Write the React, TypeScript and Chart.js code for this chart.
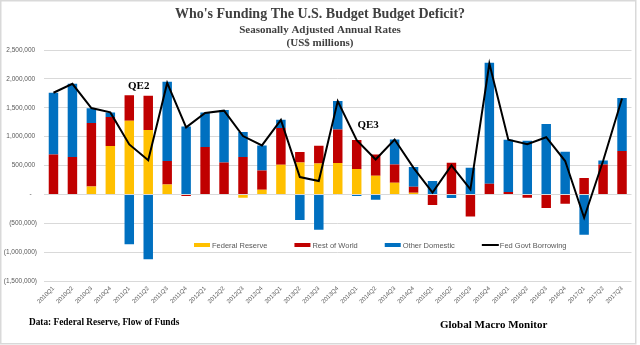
import React, { useEffect, useRef } from "react";
import { Chart, registerables } from "chart.js";

Chart.register(...registerables);

const quarters = [
  "2010Q1", "2010Q2", "2010Q3", "2010Q4",
  "2011Q1", "2011Q2", "2011Q3", "2011Q4",
  "2012Q1", "2012Q2", "2012Q3", "2012Q4",
  "2013Q1", "2013Q2", "2013Q3", "2013Q4",
  "2014Q1", "2014Q2", "2014Q3", "2014Q4",
  "2015Q1", "2015Q2", "2015Q3", "2015Q4",
  "2016Q1", "2016Q2", "2016Q3", "2016Q4",
  "2017Q1", "2017Q2", "2017Q3",
];

// US$ millions, seasonally adjusted annual rates
const federalReserve = [
  0, 0, 138000, 836000,
  1274000, 1113000, 173000, 0,
  0, 0, -58000, 81000,
  513000, 554000, 536000, 542000,
  438000, 323000, 202000, 29000,
  0, 0, 0, 0,
  0, 0, 0, 0,
  0, 0, 0,
];

const restOfWorld = [
  692000, 646000, 1100000, 502000,
  444000, 594000, 404000, -30000,
  819000, 554000, 646000, 334000,
  635000, 178000, 306000, 583000,
  502000, 369000, 317000, 104000,
  -185000, 548000, -381000, 185000,
  40000, -58000, -236000, -161000,
  283000, 519000, 750000,
];

const otherDomestic = [
  1067000, 1269000, 254000, 81000,
  -865000, -1125000, 1372000, 1176000,
  600000, 905000, 432000, 433000,
  144000, -444000, -611000, 490000,
  -30000, -92000, 433000, 340000,
  231000, -63000, 461000, 2093000,
  906000, 928000, 1217000, 738000,
  -698000, 69000, 917000,
];

const fedGovtBorrowing = [
  1760000, 1915000, 1494000, 1420000,
  865000, 590000, 1930000, 1160000,
  1410000, 1450000, 1010000, 848000,
  1290000, 300000, 231000, 1615000,
  940000, 605000, 950000, 460000,
  30000, 500000, 87000, 2266000,
  946000, 870000, 990000, 577000,
  -404000, 577000, 1660000,
];

const yMin = -1500000;
const yMax = 2500000;
const yStep = 500000;

const titleText = "Who's Funding The U.S. Budget Budget Deficit?";
const subtitleText = "Seasonally Adjusted Annual Rates";
const unitsText = "(US$ millions)";
const sourceText = "Data: Federal Reserve, Flow of Funds";
const brandText = "Global Macro Monitor";

// annotation labels anchored in data space: [text, category index, value]
const annotations: [string, number, number][] = [
  ["QE2", 4.5, 1870000],
  ["QE3", 16.6, 1190000],
];

const colors = {
  fed: "#FFC000",
  row: "#C00000",
  dom: "#0070C0",
  line: "#000000",
};

function fmtTick(v: number): string {
  if (v === 0) return "-   ";
  const s = Math.abs(v).toLocaleString("en-US");
  return v < 0 ? `(${s})` : `${s} `;
}

export default function App() {
  const ref = useRef<HTMLCanvasElement>(null);

  useEffect(() => {
    document.body.style.margin = "0";
    const canvas = ref.current;
    if (!canvas) return;

    const decor = {
      id: "decor",
      beforeDraw(chart: any) {
        const c = chart.ctx;
        c.save();
        c.fillStyle = "#ffffff";
        c.fillRect(0, 0, chart.width, chart.height);
        c.restore();
      },
      afterDraw(chart: any) {
        const c: CanvasRenderingContext2D = chart.ctx;
        const xs = chart.scales.x;
        const ys = chart.scales.y;
        c.save();
        // border
        c.strokeStyle = "#d9d9d9";
        c.lineWidth = 1.5;
        c.strokeRect(0.75, 0.75, 635, 343);

        // titles
        c.textAlign = "center";
        c.textBaseline = "middle";
        c.fillStyle = "#404040";
        c.font = "bold 14px 'Liberation Serif', serif";
        c.fillText(titleText, 320, 14);
        c.font = "bold 11px 'Liberation Serif', serif";
        c.fillText(subtitleText, 320, 30);
        c.fillText(unitsText, 320, 43);

        // annotations
        c.fillStyle = "#000000";
        c.font = "bold 11px 'Liberation Serif', serif";
        for (const [t, i, v] of annotations) {
          const px = xs.left + ((i + 0.5) / quarters.length) * xs.width;
          c.fillText(t, px, ys.getPixelForValue(v));
        }

        // footer
        c.textAlign = "left";
        c.font = "bold 9.3px 'Liberation Serif', serif";
        c.fillText(sourceText, 29, 323);
        c.font = "bold 11px 'Liberation Serif', serif";
        c.fillText(brandText, 440, 325);

        // legend
        const items = [
          { label: "Federal Reserve", color: colors.fed, line: false },
          { label: "Rest of World", color: colors.row, line: false },
          { label: "Other Domestic", color: colors.dom, line: false },
          { label: "Fed Govt Borrowing", color: colors.line, line: true },
        ];
        c.font = "7.5px 'Liberation Sans', sans-serif";
        let lx = 194;
        const ly = 245;
        for (const it of items) {
          if (it.line) {
            c.strokeStyle = it.color;
            c.lineWidth = 2;
            c.beginPath();
            c.moveTo(lx, ly);
            c.lineTo(lx + 17, ly);
            c.stroke();
          } else {
            c.fillStyle = it.color;
            c.fillRect(lx, ly - 2, 16, 4);
          }
          c.fillStyle = "#595959";
          c.fillText(it.label, lx + 18, ly + 0.5);
          lx += 18 + c.measureText(it.label).width + 27;
        }
        c.restore();
      },
    };

    const chart = new Chart(canvas, {
      type: "bar",
      data: {
        labels: quarters,
        datasets: [
          {
            type: "line",
            label: "Fed Govt Borrowing",
            data: fedGovtBorrowing,
            borderColor: colors.line,
            backgroundColor: colors.line,
            borderWidth: 2,
            pointRadius: 0,
            tension: 0,
            fill: false,
            stack: "line",
            order: 0,
          } as any,
          {
            label: "Federal Reserve",
            data: federalReserve,
            backgroundColor: colors.fed,
            stack: "bars",
            order: 1,
          },
          {
            label: "Rest of World",
            data: restOfWorld,
            backgroundColor: colors.row,
            stack: "bars",
            order: 1,
          },
          {
            label: "Other Domestic",
            data: otherDomestic,
            backgroundColor: colors.dom,
            stack: "bars",
            order: 1,
          },
        ],
      },
      options: {
        responsive: false,
        animation: false,
        layout: { padding: { top: 50, right: 8.5, bottom: 0, left: 0 } },
        datasets: {
          bar: { categoryPercentage: 1, barPercentage: 0.5 },
        },
        plugins: {
          legend: { display: false },
          title: { display: false },
          tooltip: { enabled: false },
        },
        scales: {
          x: {
            stacked: true,
            grid: { display: false, drawTicks: false },
            border: { display: false },
            ticks: {
              autoSkip: false,
              maxRotation: 45,
              minRotation: 45,
              padding: 4,
              color: "#595959",
              font: { family: "'Liberation Sans', sans-serif", size: 6 },
            },
            afterFit(scale: any) {
              scale.height = 64;
            },
          },
          y: {
            stacked: true,
            min: yMin,
            max: yMax,
            grid: { color: "#d9d9d9", drawTicks: false, lineWidth: 1 },
            border: { display: false },
            ticks: {
              stepSize: yStep,
              padding: 7,
              color: "#595959",
              font: { family: "'Liberation Sans', sans-serif", size: 6.5 },
              callback: (v: any) => fmtTick(Number(v)),
            },
            afterFit(scale: any) {
              scale.width = 44;
            },
          },
        },
      },
      plugins: [decor],
    });

    return () => chart.destroy();
  }, []);

  return (
    <canvas
      ref={ref}
      width={640}
      height={345}
      style={{ display: "block", width: 640, height: 345 }}
    />
  );
}
